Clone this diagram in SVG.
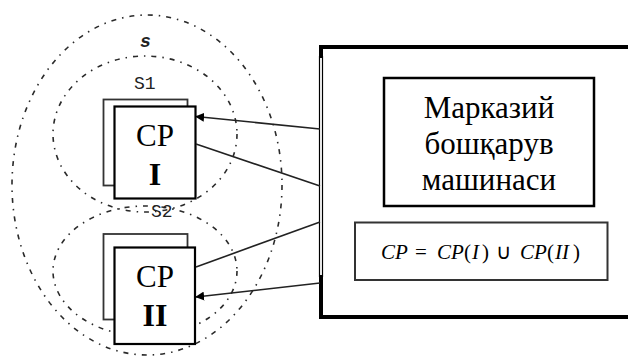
<svg xmlns="http://www.w3.org/2000/svg" width="628" height="358" viewBox="0 0 628 358">
<style>
.set{fill:none;stroke:#2a2a2a;stroke-width:1.6;stroke-dasharray:5 6 1.5 6}
.back{fill:#fff;stroke:#333;stroke-width:1.8}
.front{fill:#fff;stroke:#000;stroke-width:2.2}
.conn{fill:none;stroke:#222;stroke-width:1.6}
.cp{font-family:"Liberation Serif","Times New Roman",serif;font-size:31px;fill:#000;text-anchor:middle}
.num{font-family:"Liberation Serif","Times New Roman",serif;font-size:32px;font-weight:bold;fill:#000;text-anchor:middle}
.lbl{font-family:"Liberation Mono","Courier New",monospace;font-size:18px;fill:#222}
.big{font-family:"Liberation Serif","Times New Roman",serif;font-size:31px;fill:#000;text-anchor:middle}
.f{font-family:"Liberation Serif","Times New Roman",serif;font-size:21px;fill:#000}
.fi{font-style:italic}
</style>
<defs>
<marker id="ah" viewBox="0 0 10 10" refX="9" refY="5" markerWidth="9" markerHeight="9" markerUnits="userSpaceOnUse" orient="auto">
<path d="M0,0 L10,5 L0,10 z" fill="#000"/>
</marker>
</defs>

<g id="sets">
<ellipse class="set" cx="147" cy="185" rx="135" ry="170"/>
<ellipse class="set" cx="145" cy="134" rx="92" ry="78"/>
<ellipse class="set" cx="145" cy="271" rx="92" ry="65"/>
<text class="lbl" x="140" y="47" font-weight="bold" font-style="italic" font-size="22">s</text>
<text class="lbl" x="134" y="89">S1</text>
<text class="lbl" x="151" y="217">S2</text>
</g>

<g id="machine">
<path d="M628,47 H321 V58" fill="none" stroke="#000" stroke-width="4"/>
<path d="M321,275 V317 H628" fill="none" stroke="#000" stroke-width="4"/>
<line x1="319.5" y1="56" x2="319.5" y2="277" stroke="#000" stroke-width="1.2"/>
<line x1="322.5" y1="56" x2="322.5" y2="277" stroke="#000" stroke-width="1.2"/>
</g>

<g id="central">
<rect x="384" y="78" width="210" height="128" fill="#fff" stroke="#000" stroke-width="2.5"/>
<text class="big" x="489" y="118">Марказий</text>
<text class="big" x="489" y="154">бошқарув</text>
<text class="big" x="489" y="190">машинаси</text>
</g>

<g id="formula">
<rect x="355" y="222.5" width="252.5" height="57.5" fill="#fff" stroke="#333" stroke-width="2"/>
<text class="f" y="259"><tspan class="fi" x="381">CP</tspan><tspan x="415">=</tspan><tspan class="fi" x="437">CP</tspan><tspan x="464">(</tspan><tspan class="fi" x="472">I</tspan><tspan x="482">)</tspan><tspan x="496">∪</tspan><tspan class="fi" x="520">CP</tspan><tspan x="547">(</tspan><tspan class="fi" x="555">II</tspan><tspan x="573">)</tspan></text>
</g>

<g id="cp1">
<rect class="back" x="103.5" y="99.5" width="84" height="86"/>
<rect class="front" x="114.5" y="106.5" width="81" height="92"/>
<text class="cp" x="155" y="146">CP</text>
<text class="num" x="155" y="185">I</text>
</g>

<g id="cp2">
<rect class="back" x="103.5" y="234" width="84" height="85.5"/>
<rect class="front" x="114.5" y="247.5" width="80.5" height="96.5"/>
<text class="cp" x="155" y="287">CP</text>
<text class="num" x="155" y="326">II</text>
</g>

<g id="connectors">
<line class="conn" x1="320" y1="129" x2="196" y2="116.5" marker-end="url(#ah)"/>
<line class="conn" x1="196" y1="144" x2="320" y2="186"/>
<line class="conn" x1="196" y1="267" x2="320" y2="222"/>
<line class="conn" x1="320" y1="283" x2="196" y2="297" marker-end="url(#ah)"/>
</g>
</svg>
